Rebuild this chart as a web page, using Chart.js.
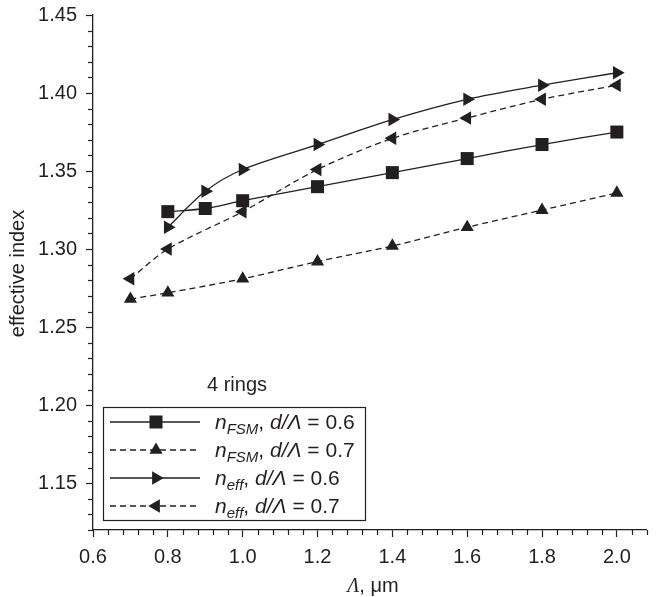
<!DOCTYPE html>
<html><head><meta charset="utf-8">
<script src="https://cdn.jsdelivr.net/npm/chart.js@4/dist/chart.umd.min.js"></script>
<style>html,body{margin:0;padding:0;background:#fff;} #wrap{position:relative;width:656px;height:597px;}</style>
</head><body><div id="wrap"><canvas id="c" width="656" height="597"></canvas></div>
<script>
// ---- data ----
const lambdaA = [0.8, 0.9, 1.0, 1.2, 1.4, 1.6, 1.8, 2.0];      // Λ values, d/Λ = 0.6 series
const lambdaB = [0.7, 0.8, 1.0, 1.2, 1.4, 1.6, 1.8, 2.0];      // Λ values, d/Λ = 0.7 series
const nFSM06 = [1.324, 1.326, 1.331, 1.340, 1.349, 1.358, 1.367, 1.375];
const nFSM07 = [1.268, 1.272, 1.281, 1.292, 1.302, 1.314, 1.325, 1.336];
const nEff06 = [1.314, 1.337, 1.351, 1.367, 1.383, 1.396, 1.405, 1.413];
const nEff07 = [1.281, 1.300, 1.324, 1.351, 1.371, 1.384, 1.396, 1.405];
const seriesNames = ['nFSM, d/Λ = 0.6', 'nFSM, d/Λ = 0.7', 'neff, d/Λ = 0.6', 'neff, d/Λ = 0.7'];
const seriesSubs = ['FSM', 'FSM', 'eff', 'eff'];
const seriesRatio = ['0.6', '0.7', '0.6', '0.7'];
const xTickValues = [0.6, 0.8, 1.0, 1.2, 1.4, 1.6, 1.8, 2.0];
const xTickLabels = ['0.6', '0.8', '1.0', '1.2', '1.4', '1.6', '1.8', '2.0'];
const yTickValues = [1.15, 1.20, 1.25, 1.30, 1.35, 1.40, 1.45];
const yTickLabels = ['1.15', '1.20', '1.25', '1.30', '1.35', '1.40', '1.45'];
const annotationText = '4 rings';
const xTitleSymbol = 'Λ';
const xTitleUnit = ', μm';
const yTitle = 'effective index';

const INK = '#231f20';
const SANS = '"Liberation Sans", Arial, Helvetica, sans-serif';
const SERIF = '"Liberation Serif", "Times New Roman", serif';

function pts(xs, ys) { return xs.map((x, i) => ({ x: x, y: ys[i] })); }

const styles = [
  { pointStyle: 'rect', rotation: 0, radius: 9.2, dash: [] },
  { pointStyle: 'triangle', rotation: 0, radius: 7.6, dash: [6, 4] },
  { pointStyle: 'triangle', rotation: 90, radius: 7.8, dash: [] },
  { pointStyle: 'triangle', rotation: -90, radius: 7.8, dash: [6, 4] }
];
const seriesData = [pts(lambdaA, nFSM06), pts(lambdaB, nFSM07), pts(lambdaA, nEff06), pts(lambdaB, nEff07)];

const datasets = seriesData.map((d, i) => ({
  label: seriesNames[i],
  data: d,
  borderColor: INK,
  backgroundColor: INK,
  borderWidth: 1.3,
  borderDash: styles[i].dash,
  pointStyle: styles[i].pointStyle,
  rotation: styles[i].rotation,
  pointRadius: styles[i].radius,
  pointBorderWidth: 0,
  pointBackgroundColor: INK,
  tension: 0.3,
  fill: false,
  clip: false
}));

function drawMarker(ctx, st, x, y) {
  ctx.save();
  ctx.fillStyle = INK; ctx.strokeStyle = INK; ctx.setLineDash([]);
  if (Chart.helpers && Chart.helpers.drawPoint) {
    Chart.helpers.drawPoint(ctx, { pointStyle: st.pointStyle, rotation: st.rotation, radius: st.radius, borderWidth: 0 }, x, y);
  }
  ctx.restore();
}

const decorPlugin = {
  id: 'decor',
  beforeDatasetsDraw(chart) {
    const ctx = chart.ctx;
    const xs = chart.scales.x, ys = chart.scales.y;
    ctx.save();
    ctx.strokeStyle = INK; ctx.lineWidth = 1.2; ctx.setLineDash([]);
    for (let k = 0; k <= 37; k++) {
      const v = 0.6 + k * 0.04;
      if (xTickValues.some(t => Math.abs(t - v) < 1e-6)) continue;
      const px = Math.round(xs.getPixelForValue(v)) + 0.5;
      ctx.beginPath(); ctx.moveTo(px, xs.top); ctx.lineTo(px, xs.top + 5); ctx.stroke();
    }
    for (let k = 0; k <= 33; k++) {
      const v = 1.12 + k * 0.01;
      if (yTickValues.some(t => Math.abs(t - v) < 1e-6)) continue;
      const py = Math.round(ys.getPixelForValue(v)) + 0.5;
      ctx.beginPath(); ctx.moveTo(ys.right, py); ctx.lineTo(ys.right - 5, py); ctx.stroke();
    }
    ctx.restore();
  },
  afterDraw(chart) {
    const ctx = chart.ctx;
    const ca = chart.chartArea;
    ctx.save();
    ctx.fillStyle = INK;
    ctx.save();
    ctx.translate(18, (ca.top + ca.bottom) / 2 + 1);
    ctx.rotate(-Math.PI / 2);
    ctx.font = '20px ' + SANS;
    ctx.textAlign = 'center'; ctx.textBaseline = 'middle';
    ctx.fillText(yTitle, 0, 0);
    ctx.restore();
    ctx.textBaseline = 'alphabetic'; ctx.textAlign = 'left';
    ctx.font = 'italic 20px ' + SERIF;
    const w1 = ctx.measureText(xTitleSymbol).width;
    ctx.font = '20px ' + SANS;
    const w2 = ctx.measureText(xTitleUnit).width;
    const cx = (ca.left + ca.right) / 2 + 3;
    let tx = cx - (w1 + w2) / 2;
    ctx.font = 'italic 20px ' + SERIF;
    ctx.fillText(xTitleSymbol, tx, 592);
    ctx.font = '20px ' + SANS;
    ctx.fillText(xTitleUnit, tx + w1, 592);
    ctx.font = '20px ' + SANS;
    ctx.fillText(annotationText, 207, 391);
    const bx = 103, by = 407, bw = 262, bh = 113;
    ctx.fillStyle = '#fff';
    ctx.fillRect(bx, by, bw, bh);
    ctx.strokeStyle = INK; ctx.lineWidth = 1.2; ctx.setLineDash([]);
    ctx.strokeRect(bx + 0.5, by + 0.5, bw, bh);
    for (let i = 0; i < 4; i++) {
      const ry = 422 + i * 28;
      ctx.save();
      ctx.strokeStyle = INK; ctx.lineWidth = 1.3;
      ctx.setLineDash(styles[i].dash);
      ctx.beginPath(); ctx.moveTo(110, ry); ctx.lineTo(200, ry); ctx.stroke();
      ctx.restore();
      drawMarker(ctx, styles[i], 156, ry);
      ctx.fillStyle = INK;
      let x = 215; const base = ry + 7;
      ctx.font = 'italic 21px ' + SANS; ctx.fillText('n', x, base); x += ctx.measureText('n').width;
      ctx.font = 'italic 15px ' + SANS; ctx.fillText(seriesSubs[i], x, base + 5); x += ctx.measureText(seriesSubs[i]).width;
      ctx.font = '21px ' + SANS; ctx.fillText(', ', x, base); x += ctx.measureText(', ').width;
      ctx.font = 'italic 21px ' + SANS; ctx.fillText('d/Λ', x, base); x += ctx.measureText('d/Λ').width;
      ctx.font = '21px ' + SANS; ctx.fillText(' = ' + seriesRatio[i], x, base);
    }
    ctx.restore();
  }
};

new Chart(document.getElementById('c'), {
  type: 'line',
  data: { datasets: datasets },
  plugins: [decorPlugin],
  options: {
    responsive: false,
    animation: false,
    devicePixelRatio: 1,
    layout: { padding: { top: 15, left: 0, right: 0, bottom: 0 } },
    plugins: { legend: { display: false }, tooltip: { enabled: false } },
    scales: {
      x: {
        type: 'linear', min: 0.6, max: 2.08,
        afterBuildTicks: s => { s.ticks = xTickValues.map(v => ({ value: v })); },
        afterFit: s => { s.height = 67; s.paddingLeft = 0; s.paddingRight = 0; },
        ticks: { callback: (v, i) => xTickLabels[i], color: INK, font: { family: SANS, size: 20 }, padding: 8, maxRotation: 0, autoSkip: false },
        grid: { drawOnChartArea: false, drawTicks: true, tickLength: 7, tickColor: INK, tickWidth: 1.2 },
        border: { display: true, color: INK, width: 1.3 }
      },
      y: {
        type: 'linear', min: 1.12, max: 1.45,
        afterBuildTicks: s => { s.ticks = yTickValues.map(v => ({ value: v })); },
        afterFit: s => { s.width = 93; s.paddingTop = 0; s.paddingBottom = 0; },
        ticks: { callback: (v, i) => yTickLabels[i], color: INK, font: { family: SANS, size: 20 }, padding: 9, autoSkip: false },
        grid: { drawOnChartArea: false, drawTicks: true, tickLength: 7, tickColor: INK, tickWidth: 1.2 },
        border: { display: true, color: INK, width: 1.3 }
      }
    }
  }
});
</script>
</body></html>
